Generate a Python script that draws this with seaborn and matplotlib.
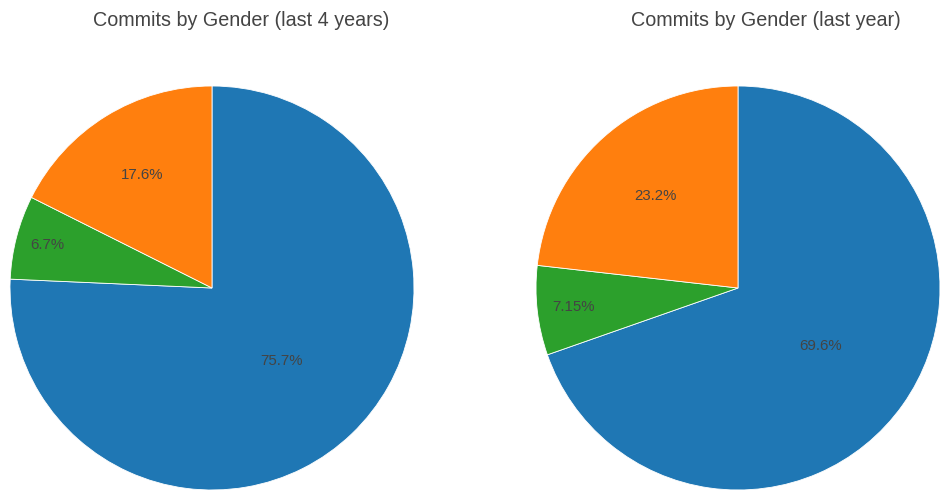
import numpy as np
import matplotlib
matplotlib.use("Agg")
import matplotlib.pyplot as plt
import seaborn as sns

# Commit share by gender, in clockwise drawing order from 12 o'clock
genders = ["male", "other", "female"]
share_4y = [75.7, 6.7, 17.6]
share_1y = [69.6, 7.15, 23.2]
titles = ["Commits by Gender (last 4 years)", "Commits by Gender (last year)"]

sns.set_theme(style="white")
plt.rcParams["font.family"] = ["Liberation Sans", "DejaVu Sans"]

tab = sns.color_palette("tab10")
colors = [tab[0], tab[2], tab[1]]

W, H = 940, 490
fig = plt.figure(figsize=(W / 100, H / 100), dpi=100)

# where each percentage label sits along its slice's bisector (fraction of radius)
label_radii = [[0.50, 0.84, 0.66], [0.50, 0.82, 0.61]]

centers = [(212, 288), (738, 288)]
R = 202
title_x = [241, 766]

for i, (vals, title) in enumerate(zip([share_4y, share_1y], titles)):
    cx, cy = centers[i]
    ax = fig.add_axes([(cx - R) / W, (H - cy - R) / H, 2 * R / W, 2 * R / H])
    wedges, _ = ax.pie(vals, colors=colors, startangle=90, counterclock=False,
                       radius=1.0,
                       wedgeprops=dict(linewidth=0.6, edgecolor="white"))
    ax.set_xlim(-1, 1)
    ax.set_ylim(-1, 1)
    ax.set_aspect("equal")
    ax.axis("off")
    for w, v, r in zip(wedges, vals, label_radii[i]):
        mid = np.deg2rad((w.theta1 + w.theta2) / 2)
        ax.text(r * np.cos(mid), r * np.sin(mid), f"{v:.3g}%",
                ha="center", va="center", fontsize=10.8, color="#444444")
    fig.text(title_x[i] / W, 1 - 21 / H, title, ha="center", va="center",
             fontsize=14.2, color="#444444")

fig.savefig("out.png", dpi=100, facecolor="white")
